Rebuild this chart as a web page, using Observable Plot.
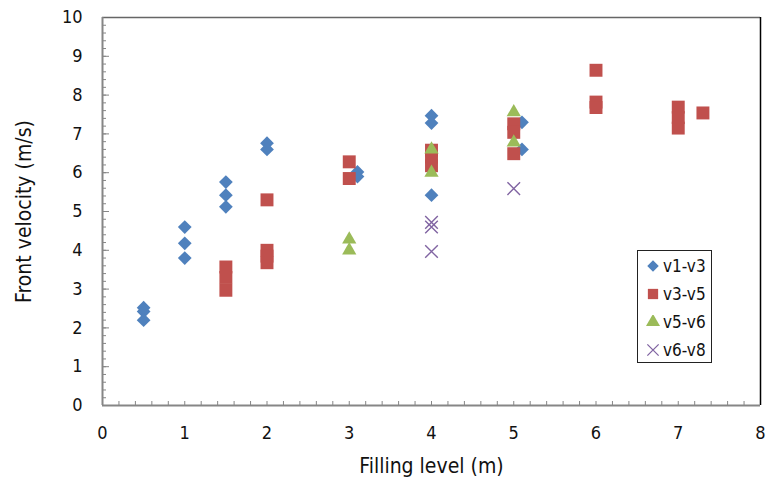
<!DOCTYPE html>
<html>
<head>
<meta charset="utf-8">
<script src="https://cdn.jsdelivr.net/npm/d3@7"></script>
<script src="https://cdn.jsdelivr.net/npm/@observablehq/plot@0.6"></script>
<style>
  html, body { margin: 0; padding: 0; background: #fff; }
  #wrap { position: relative; width: 767px; height: 483px; font-family: "DejaVu Sans Condensed", "Liberation Sans", sans-serif; color: #111; }
  #legend { position: absolute; left: 637px; top: 250px; width: 75px; height: 113px; border: 1px solid #222; box-sizing: border-box; background: #fff; }
  .item { position: absolute; left: 0; height: 20px; display: flex; align-items: center; font-size: 17px; }
  .item svg { margin-left: 8px; margin-right: 3px; }
</style>
</head>
<body>
<div id="wrap"></div>
<script>
// Data
const seriesNames = ["v1-v3", "v3-v5", "v5-v6", "v6-v8"];
const seriesColors = ["#4F81BD", "#C0504D", "#9BBB59", "#8064A2"];

const v13X = [0.5, 0.5, 0.5, 1, 1, 1, 1.5, 1.5, 1.5, 2, 2, 3.1, 3.1, 4, 4, 4, 5.1, 5.1];
const v13Y = [2.52, 2.42, 2.2, 4.6, 4.18, 3.8, 5.76, 5.42, 5.12, 6.76, 6.6, 6.02, 5.9, 7.47, 7.28, 5.42, 7.3, 6.6];

const v35X = [1.5, 1.5, 1.5, 2, 2, 2, 2, 3, 3, 4, 4, 4, 5, 5, 5, 6, 6, 6, 7, 7, 7, 7.3];
const v35Y = [3.57, 3.3, 2.97, 5.3, 4.0, 3.85, 3.68, 6.28, 5.85, 6.58, 6.4, 6.18, 7.26, 7.04, 6.49, 8.64, 7.82, 7.68, 7.69, 7.42, 7.15, 7.54];

const v56X = [3, 3, 4, 4, 5, 5];
const v56Y = [4.28, 4.0, 6.6, 6.0, 7.56, 6.78];

const v68X = [4, 4, 4, 5];
const v68Y = [4.72, 4.6, 3.97, 5.59];

const xTicks = [0, 1, 2, 3, 4, 5, 6, 7, 8];
const yTicks = [0, 1, 2, 3, 4, 5, 6, 7, 8, 9, 10];
const xMinor = d3.range(0, 41).map(i => i / 5);
const yMinor = d3.range(0, 51).map(i => i / 5);

const toRows = (xs, ys) => xs.map((x, i) => ({x, y: ys[i]}));
const s13 = toRows(v13X, v13Y);
const s35 = toRows(v35X, v35Y);
const s56 = toRows(v56X, v56Y);
const s68 = toRows(v68X, v68Y);

const axisGray = "#868686";

const chart = Plot.plot({
  width: 767,
  height: 483,
  marginLeft: 102,
  marginRight: 7,
  marginTop: 17,
  marginBottom: 78,
  style: {fontFamily: '"DejaVu Sans Condensed", "Liberation Sans", sans-serif', fontSize: "18px", color: "#111", background: "#fff"},
  x: {domain: [0, 8]},
  y: {domain: [0, 10]},
  marks: [
    // inward minor / major ticks
    Plot.axisX(xMinor, {tickSize: -4, tickFormat: () => "", stroke: axisGray, label: null}),
    Plot.axisY(yMinor, {tickSize: -4, tickFormat: () => "", stroke: axisGray, label: null}),
    Plot.axisY(yTicks, {tickSize: -7, tickFormat: () => "", stroke: axisGray, label: null}),
    // labels
    Plot.axisX(xTicks, {tickSize: 0, tickPadding: 21, fontSize: 18, label: "Filling level (m)", labelAnchor: "center", labelOffset: 67, labelArrow: "none"}),
    Plot.axisY(yTicks, {tickSize: 0, tickPadding: 20, fontSize: 18, label: "Front velocity (m/s)", labelAnchor: "center", labelOffset: 86, labelArrow: "none"}),
    // frame
    Plot.ruleY([10], {stroke: "#666", strokeWidth: 1.5}),
    Plot.ruleX([8], {stroke: "#000", strokeWidth: 1.5}),
    Plot.ruleX([0], {stroke: axisGray, strokeWidth: 2}),
    Plot.ruleY([0], {stroke: axisGray, strokeWidth: 2}),
    // series
    Plot.dot(s13, {x: "x", y: "y", symbol: "diamond2", fill: seriesColors[0], r: 6.2}),
    Plot.dot(s35, {x: "x", y: "y", symbol: "square", fill: seriesColors[1], r: 7.3}),
    Plot.dot(s56, {x: "x", y: "y", symbol: "triangle", fill: seriesColors[2], r: 5.3}),
    Plot.dot(s68, {x: "x", y: "y", symbol: "times", stroke: seriesColors[3], strokeWidth: 1.4, r: 5.8})
  ]
});

const wrap = document.getElementById("wrap");
wrap.appendChild(chart);

// axis titles a little larger
chart.querySelectorAll("text").forEach(t => {
  const s = t.textContent;
  if (s === "Filling level (m)" || s === "Front velocity (m/s)") t.setAttribute("font-size", "21");
});

// legend
const legend = document.createElement("div");
legend.id = "legend";
const symbols = ["diamond2", "square", "triangle", "times"];
const radii = [5.2, 5.8, 5.2, 5.2];
const typeMap = {diamond2: d3.symbolDiamond2, square: d3.symbolSquare, triangle: d3.symbolTriangle, times: d3.symbolTimes};
seriesNames.forEach((name, i) => {
  const item = document.createElement("div");
  item.className = "item";
  item.style.top = (5 + i * 28) + "px";
  const svg = d3.create("svg").attr("width", 14).attr("height", 14);
  const path = svg.append("path")
    .attr("transform", "translate(7,7)")
    .attr("d", d3.symbol(typeMap[symbols[i]], radii[i] * radii[i] * Math.PI)());
  if (symbols[i] === "times") path.attr("fill", "none").attr("stroke", seriesColors[i]).attr("stroke-width", 1.3);
  else path.attr("fill", seriesColors[i]);
  item.appendChild(svg.node());
  const label = document.createElement("span");
  label.textContent = name;
  item.appendChild(label);
  legend.appendChild(item);
});
wrap.appendChild(legend);
</script>
</body>
</html>
